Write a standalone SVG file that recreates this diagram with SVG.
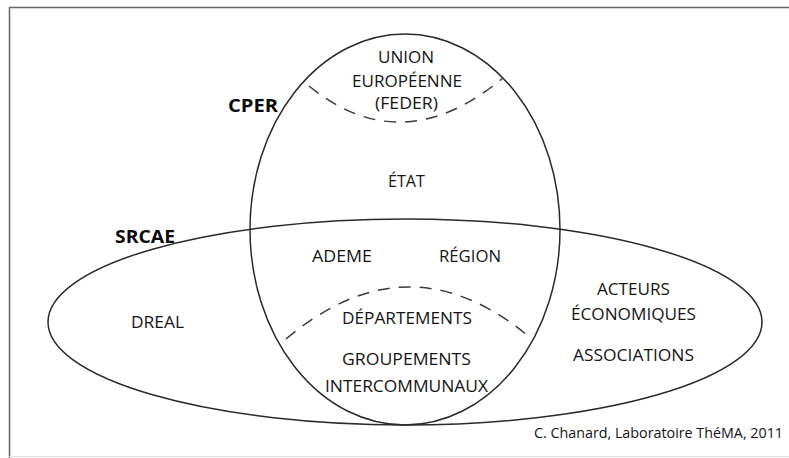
<svg xmlns="http://www.w3.org/2000/svg" width="789" height="458" viewBox="0 0 789 458">
<style>
text{font-family:"Open Sans","Noto Sans",sans-serif;fill:#141414;text-anchor:middle;font-size:15.5px}
.b{font-weight:bold;font-size:17px;text-anchor:start;fill:#0a0a0a}
.f{font-size:14px;text-anchor:start}
.set{fill:none;stroke:#2a2a2a;stroke-width:1.5}
.dash{fill:none;stroke:#3a3a3a;stroke-width:1.5;stroke-dasharray:12 9}
</style>
<rect width="789" height="458" fill="#fff"/>
<path d="M9.5 460V7.5H795" fill="none" stroke="#666" stroke-width="1.5"/>
<line x1="9" y1="456.5" x2="789" y2="456.5" stroke="#ddd" stroke-width="1"/>
<g id="connectors">
<ellipse class="set" cx="405" cy="322" rx="357" ry="103"/>
<ellipse class="set" cx="405" cy="229.5" rx="155" ry="195.5"/>
<path class="dash" d="M309 86Q402 162 503 78"/>
<path class="dash" d="M286 339Q407 237 527 335"/>
</g>
<g id="cper"><text class="b" x="228" y="112" textLength="50" lengthAdjust="spacingAndGlyphs">CPER</text></g>
<g id="srcae"><text class="b" x="115" y="243" textLength="60" lengthAdjust="spacingAndGlyphs">SRCAE</text></g>
<g id="ue">
<text x="406" y="63" textLength="56" lengthAdjust="spacingAndGlyphs">UNION</text>
<text x="407" y="87" textLength="110" lengthAdjust="spacingAndGlyphs">EUROPÉENNE</text>
<text x="406.5" y="109" textLength="63" lengthAdjust="spacingAndGlyphs">(FEDER)</text>
</g>
<g id="etat"><text x="406.5" y="187" textLength="37" lengthAdjust="spacingAndGlyphs">ÉTAT</text></g>
<g id="ademe"><text x="342" y="262" textLength="60" lengthAdjust="spacingAndGlyphs">ADEME</text></g>
<g id="region"><text x="470" y="262" textLength="62" lengthAdjust="spacingAndGlyphs">RÉGION</text></g>
<g id="dreal"><text x="157.5" y="328" textLength="53" lengthAdjust="spacingAndGlyphs">DREAL</text></g>
<g id="departements"><text x="407" y="324" textLength="130" lengthAdjust="spacingAndGlyphs">DÉPARTEMENTS</text></g>
<g id="groupements">
<text x="406.5" y="365" textLength="129" lengthAdjust="spacingAndGlyphs">GROUPEMENTS</text>
<text x="406.5" y="392" textLength="163" lengthAdjust="spacingAndGlyphs">INTERCOMMUNAUX</text>
</g>
<g id="acteurs">
<text x="633.5" y="295" textLength="73" lengthAdjust="spacingAndGlyphs">ACTEURS</text>
<text x="633.5" y="320" textLength="125" lengthAdjust="spacingAndGlyphs">ÉCONOMIQUES</text>
</g>
<g id="associations"><text x="633.5" y="361" textLength="121" lengthAdjust="spacingAndGlyphs">ASSOCIATIONS</text></g>
<text class="f" x="534" y="438" textLength="249" lengthAdjust="spacingAndGlyphs">C. Chanard, Laboratoire ThéMA, 2011</text>
</svg>
